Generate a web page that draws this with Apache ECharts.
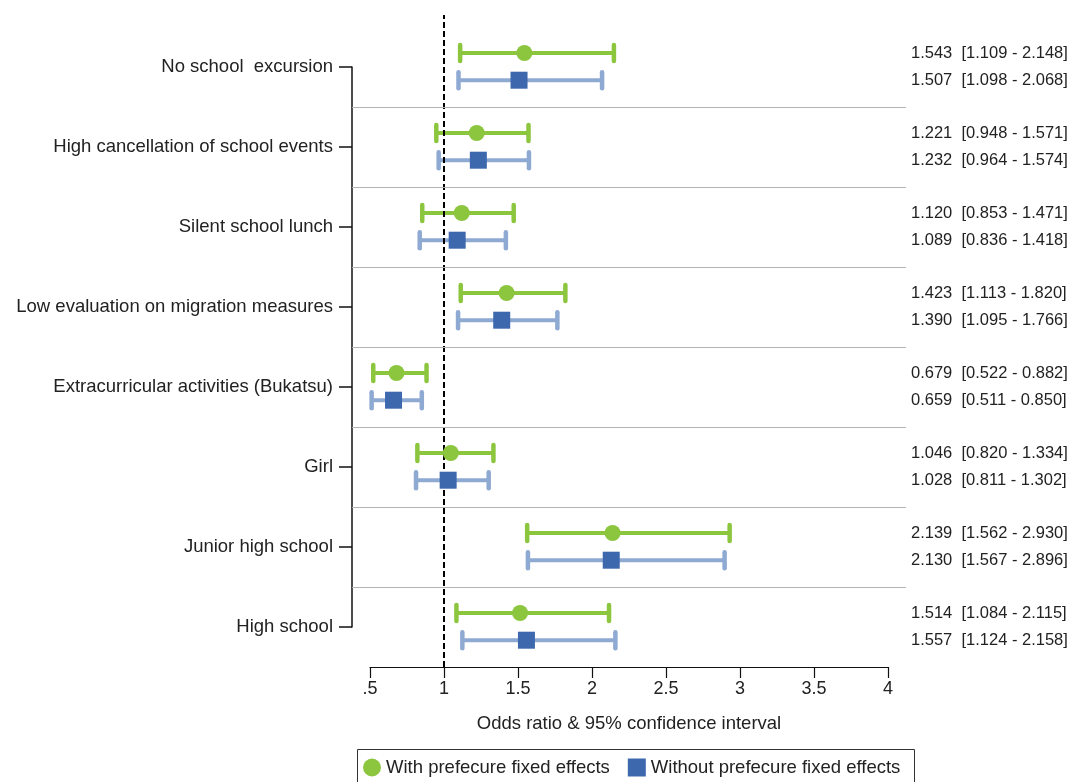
<!DOCTYPE html>
<html><head><meta charset="utf-8">
<script src="https://cdn.jsdelivr.net/npm/echarts@6/dist/echarts.min.js"></script>
<style>html,body{margin:0;padding:0;background:#fff}#c{width:1072px;height:782px}</style>
</head><body><div id="c"></div>
<script>
const categories = [
  'No school  excursion',
  'High cancellation of school events',
  'Silent school lunch',
  'Low evaluation on migration measures',
  'Extracurricular activities (Bukatsu)',
  'Girl',
  'Junior high school',
  'High school'
];
const withEst  = [1.543, 1.221, 1.120, 1.423, 0.679, 1.046, 2.139, 1.514];
const withLow  = [1.109, 0.948, 0.853, 1.113, 0.522, 0.820, 1.562, 1.084];
const withHigh = [2.148, 1.571, 1.471, 1.820, 0.882, 1.334, 2.930, 2.115];
const withoutEst  = [1.507, 1.232, 1.089, 1.390, 0.659, 1.028, 2.130, 1.557];
const withoutLow  = [1.098, 0.964, 0.836, 1.095, 0.511, 0.811, 1.567, 1.124];
const withoutHigh = [2.068, 1.574, 1.418, 1.766, 0.850, 1.302, 2.896, 2.158];
const xTickLabels = {0.5: '.5', 1: '1', 1.5: '1.5', 2: '2', 2.5: '2.5', 3: '3', 3.5: '3.5', 4: '4'};
const seriesNames = ['With prefecure fixed effects', 'Without prefecure fixed effects'];
const referenceValue = 1;

const FONT = '"Liberation Sans", Arial, sans-serif';
const GREEN = '#8cc63f', BLUE_LINE = '#8eaad3', BLUE = '#3d68ae';
const OFF_G = -0.175, OFF_B = 0.165;

// hidden axis of grid 0 spans 18px beyond 0.5 and 4 on each side
const pxPerUnit = (888 - 370) / 3.5;
const xMin0 = 0.5 - 18 / pxPerUnit, xMax0 = 4 + 18 / pxPerUnit;

function bars(name, low, high, est, off, color, withSeparators) {
  const s = {
    type: 'custom', name: name, xAxisIndex: 0, yAxisIndex: 0, clip: false, z: 3,
    data: categories.map((c, i) => [low[i], high[i], i + off, est[i]]),
    encode: {x: [0, 1], y: 2},
    renderItem: (params, api) => {
      const y = api.value(2);
      const a = api.coord([api.value(0), y]);
      const b = api.coord([api.value(1), y]);
      const capStyle = {stroke: color, lineWidth: 4.5, lineCap: 'round'};
      const txt = api.value(3).toFixed(3) + '  [' + api.value(0).toFixed(3) + ' - ' + api.value(1).toFixed(3) + ']';
      return {type: 'group', children: [
        {type: 'line', shape: {x1: a[0], y1: a[1], x2: b[0], y2: b[1]}, style: {stroke: color, lineWidth: 4}},
        {type: 'line', shape: {x1: a[0], y1: a[1] - 8, x2: a[0], y2: a[1] + 8}, style: capStyle},
        {type: 'line', shape: {x1: b[0], y1: b[1] - 8, x2: b[0], y2: b[1] + 8}, style: capStyle},
        {type: 'text', x: 911, y: a[1], style: {text: txt, fill: '#222', font: '16.5px ' + FONT, align: 'left', verticalAlign: 'middle'}}
      ]};
    }
  };
  if (withSeparators) {
    const sep = [];
    for (let i = 0; i < categories.length - 1; i++) sep.push({yAxis: i + 0.5});
    s.markLine = {
      silent: true, symbol: ['none', 'none'], label: {show: false}, animation: false,
      lineStyle: {color: '#b4b4b4', width: 1, type: 'solid'},
      data: sep
    };
  }
  return s;
}

const chart = echarts.init(document.getElementById('c'), null, {renderer: 'canvas'});
chart.setOption({
  animation: false,
  backgroundColor: '#fff',
  textStyle: {fontFamily: FONT},
  grid: [
    {left: 352, right: 166, top: 67, bottom: 155},
    {left: 370, right: 184, top: 15, bottom: 115}
  ],
  xAxis: [
    {type: 'value', gridIndex: 0, min: xMin0, max: xMax0, show: false},
    {type: 'value', gridIndex: 1, min: 0.5, max: 4, interval: 0.5,
     axisLine: {show: true, lineStyle: {color: '#111', width: 1.2}},
     axisTick: {show: true, length: 11, lineStyle: {color: '#111', width: 1.2}},
     splitLine: {show: false},
     axisLabel: {fontSize: 18, color: '#222', margin: 13, fontFamily: FONT,
                 formatter: v => xTickLabels[v] !== undefined ? xTickLabels[v] : String(v)},
     name: 'Odds ratio & 95% confidence interval', nameLocation: 'middle', nameGap: 47,
     nameTextStyle: {fontSize: 18.5, color: '#222', fontFamily: FONT}}
  ],
  yAxis: [
    {type: 'value', gridIndex: 0, min: 0, max: categories.length - 1, interval: 1, inverse: true,
     axisLine: {show: true, lineStyle: {color: '#111', width: 1.5}},
     axisTick: {show: true, length: 13, lineStyle: {color: '#111', width: 1.5}},
     splitLine: {show: false},
     axisLabel: {fontSize: 18.5, color: '#222', margin: 19, fontFamily: FONT,
                 formatter: v => categories[v] || ''}},
    {type: 'value', gridIndex: 1, min: 0, max: 1, show: false}
  ],
  legend: {
    left: 363, top: 758, itemWidth: 18, itemHeight: 18, itemGap: 18, padding: 0,
    data: seriesNames, selectedMode: false,
    textStyle: {fontSize: 18.5, color: '#222', fontFamily: FONT}
  },
  graphic: [{type: 'rect', left: 355, top: 747, shape: {width: 557, height: 50},
             style: {fill: 'none', stroke: '#333', lineWidth: 1}, silent: true}],
  series: [
    bars('bars-with', withLow, withHigh, withEst, OFF_G, GREEN, true),
    bars('bars-without', withoutLow, withoutHigh, withoutEst, OFF_B, BLUE_LINE, false),
    {type: 'line', name: 'reference', xAxisIndex: 1, yAxisIndex: 1, z: 4, silent: true,
     symbol: 'none', lineStyle: {color: '#000', width: 2, type: [6, 3]},
     data: [[referenceValue, 0], [referenceValue, 1]]},
    {type: 'scatter', name: seriesNames[0], xAxisIndex: 0, yAxisIndex: 0, clip: false, z: 5,
     symbol: 'circle', symbolSize: 16, itemStyle: {color: GREEN, opacity: 1},
     data: withEst.map((v, i) => [v, i + OFF_G])},
    {type: 'scatter', name: seriesNames[1], xAxisIndex: 0, yAxisIndex: 0, clip: false, z: 5,
     symbol: 'rect', symbolSize: 17, itemStyle: {color: BLUE, opacity: 1},
     data: withoutEst.map((v, i) => [v, i + OFF_B])}
  ]
});
</script>
</body></html>
